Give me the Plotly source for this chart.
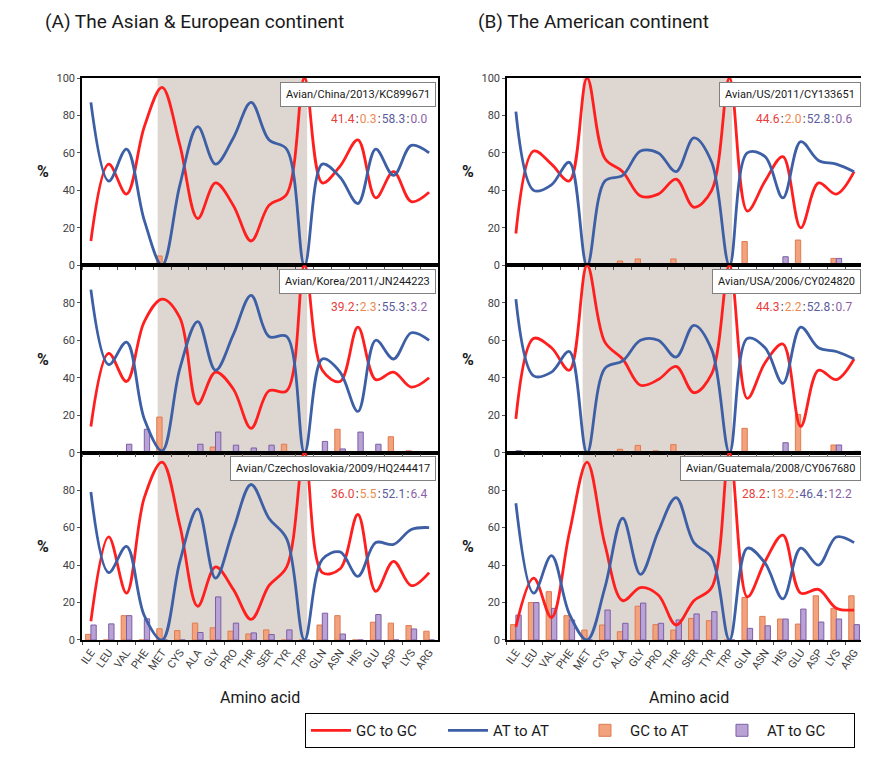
import plotly.graph_objects as go
from plotly.subplots import make_subplots

AMINO = ["ILE", "LEU", "VAL", "PHE", "MET", "CYS", "ALA", "GLY", "PRO", "THR",
         "SER", "TYR", "TRP", "GLN", "ASN", "HIS", "GLU", "ASP", "LYS", "ARG"]

# (A) Asian & European continent
china_gc_gc = [13, 54, 38, 74, 95, 64, 25, 44, 32, 13, 32, 38, 100, 44, 53, 67, 36, 50, 34, 39]
china_at_at = [87, 45, 62, 24, 0, 43, 74, 54, 68, 87, 67, 62, 0, 54, 47, 33, 62, 48, 64, 60]
china_gc_at = [0, 0, 0, 0, 5, 0, 0, 0, 0, 0, 0, 0, 0, 1, 0, 0, 0, 0.5, 0.5, 0]
china_at_gc = [0] * 20

korea_gc_gc = [14, 53, 38, 70, 82, 72, 26, 43, 34, 13, 33, 33, 100, 44, 38, 67, 39, 43, 35, 40]
korea_at_at = [87, 47, 59, 18, 1, 45, 70, 44, 63, 84, 62, 62, 0, 50, 43, 22, 60, 50, 64, 60]
korea_gc_at = [0, 0, 0, 0, 19, 0, 0, 3, 0, 0, 0, 4.5, 0, 0, 12.5, 0, 0, 8.5, 1, 0]
korea_at_gc = [0, 0, 4.5, 12.5, 0, 0, 4.5, 11, 4, 2.5, 4, 0, 0, 6, 2, 11, 4.5, 0, 0, 0]

czech_gc_gc = [10, 55, 25, 76, 95, 61, 18, 39, 27, 11, 29, 39, 100, 36, 38, 67, 26, 42, 29, 36]
czech_at_at = [79, 36, 50, 13, 0, 42, 70, 33, 59, 83, 65, 54, 0, 43, 47, 34, 52, 51, 59, 60]
czech_gc_at = [3, 0, 13, 0, 6, 5, 9, 6.5, 4.7, 3.2, 5.4, 0, 0, 8, 13, 0, 9.5, 9, 7.7, 4.7]
czech_at_gc = [8, 8.6, 13, 11.3, 0, 0, 4, 23, 9, 3.8, 2.9, 5.4, 0, 14.3, 3.2, 0, 13.6, 0, 5.9, 0]

# (B) American continent
us_gc_gc = [17, 61, 54, 45, 100, 57, 50, 37, 38, 46, 31, 40, 100, 29, 45, 58, 20, 44, 38, 50]
us_at_at = [82, 40, 43, 55, 0, 45, 48, 61, 60, 50, 68, 55, 0, 60, 58, 36, 66, 56, 54, 50]
us_gc_at = [0.5, 0, 0.5, 0, 0, 0, 2.3, 3.4, 1, 3.4, 0, 0, 0, 12.7, 0, 0, 13.5, 0, 3.7, 0]
us_at_gc = [0, 0, 0, 0, 0, 0, 0, 0, 0, 0, 0, 0, 0, 0, 0, 4.6, 0, 0, 3.7, 0.5]

usa_gc_gc = [18, 61, 56, 44, 100, 59, 50, 36, 39, 46, 32, 42, 100, 29, 48, 58, 14, 44, 39, 50]
usa_at_at = [82, 41, 43, 54, 0, 45, 49, 60, 60, 51, 68, 55, 0, 61, 56, 37, 67, 56, 54, 50]
usa_gc_at = [0, 0, 0.5, 0, 0, 0, 1.8, 3.9, 1, 4.3, 0, 0, 0, 13, 0, 0, 20.4, 0, 4.1, 0]
usa_at_gc = [1, 0, 0, 0, 0, 0, 0, 0, 0, 0, 0, 0, 0, 0, 0, 5.3, 0, 0, 4.1, 0.7]

guat_gc_gc = [7, 33, 12, 57, 95, 51, 21, 28, 24, 8, 21, 28, 100, 23, 42, 56, 25, 27, 17, 16]
guat_at_at = [73, 25, 45, 14, 0, 28, 65, 35, 58, 76, 52, 44, 0, 49, 41, 22, 49, 40, 55, 52]
guat_gc_at = [8.2, 20, 25.8, 13, 5.3, 8, 4.4, 18, 8.2, 5.3, 11.5, 10.3, 0, 22.7, 12.6, 11.2, 8.5, 23.6, 16.9, 23.6]
guat_at_gc = [13.3, 20, 16.9, 10.7, 0, 16, 8.9, 19.7, 8.9, 10.7, 13.9, 15.1, 0, 6.2, 7.6, 11.2, 16.5, 9.6, 11.2, 8.2]

PANELS = [
    (1, 1, "Avian/China/2013/KC899671", ["41.4", "0.3", "58.3", "0.0"],
     china_gc_gc, china_at_at, china_gc_at, china_at_gc),
    (2, 1, "Avian/Korea/2011/JN244223", ["39.2", "2.3", "55.3", "3.2"],
     korea_gc_gc, korea_at_at, korea_gc_at, korea_at_gc),
    (3, 1, "Avian/Czechoslovakia/2009/HQ244417", ["36.0", "5.5", "52.1", "6.4"],
     czech_gc_gc, czech_at_at, czech_gc_at, czech_at_gc),
    (1, 2, "Avian/US/2011/CY133651", ["44.6", "2.0", "52.8", "0.6"],
     us_gc_gc, us_at_at, us_gc_at, us_at_gc),
    (2, 2, "Avian/USA/2006/CY024820", ["44.3", "2.2", "52.8", "0.7"],
     usa_gc_gc, usa_at_at, usa_gc_at, usa_at_gc),
    (3, 2, "Avian/Guatemala/2008/CY067680", ["28.2", "13.2", "46.4", "12.2"],
     guat_gc_gc, guat_at_at, guat_gc_at, guat_at_gc),
]

RED = "#ff1f1f"
BLUE = "#3d5fa6"
ORANGE = "#f2a27e"
ORANGE_EDGE = "#e07b4f"
PURPLE = "#b9a2d4"
PURPLE_EDGE = "#7d5fa5"
SHADE = "#ded6d0"
RATIO_COLORS = ["#e8403c", "#ee8a50", "#5b5b9e", "#8b5fa8"]
FONT = "Roboto, sans-serif"

fig = make_subplots(rows=3, cols=2, horizontal_spacing=0.0883, vertical_spacing=0)

first = True
for row, col, label, ratio, gc_gc, at_at, gc_at, at_gc in PANELS:
    fig.add_trace(go.Bar(x=AMINO, y=gc_at, name="GC to AT", legendrank=3,
                         marker=dict(color=ORANGE, line=dict(color=ORANGE_EDGE, width=1)),
                         showlegend=first), row=row, col=col)
    fig.add_trace(go.Bar(x=AMINO, y=at_gc, name="AT to GC", legendrank=4,
                         marker=dict(color=PURPLE, line=dict(color=PURPLE_EDGE, width=1)),
                         showlegend=first), row=row, col=col)
    fig.add_trace(go.Scatter(x=AMINO, y=gc_gc, name="GC to GC", mode="lines", legendrank=1,
                             line=dict(color=RED, width=2.8, shape="spline", smoothing=1),
                             showlegend=first), row=row, col=col)
    fig.add_trace(go.Scatter(x=AMINO, y=at_at, name="AT to AT", mode="lines", legendrank=2,
                             line=dict(color=BLUE, width=2.8, shape="spline", smoothing=1),
                             showlegend=first), row=row, col=col)
    first = False

    fig.add_vrect(x0=3.75, x1=12.15, fillcolor=SHADE, line_width=0, layer="below",
                  row=row, col=col)

    idx = (row - 1) * 2 + col
    suffix = "" if idx == 1 else str(idx)
    fig.add_annotation(xref=f"x{suffix} domain", yref=f"y{suffix} domain", x=0.993, y=0.98,
                       xanchor="right", yanchor="top", text=label, showarrow=False,
                       bgcolor="white", bordercolor="#808080", borderwidth=1, borderpad=5,
                       font=dict(size=11, color="#1a1a1a", family=FONT))
    sep = "<span style='color:#333'>\u200a:\u200a</span>"
    txt = sep.join(f"<span style='color:{c}'>{v}</span>" for v, c in zip(ratio, RATIO_COLORS))
    fig.add_annotation(xref=f"x{suffix} domain", yref=f"y{suffix} domain", x=0.975, y=0.78,
                       xanchor="right", yanchor="middle", text=txt, showarrow=False,
                       font=dict(size=12, family=FONT))

    fig.update_yaxes(range=[0, 100],
                     tickvals=[0, 20, 40, 60, 80, 100] if row == 1 else [0, 20, 40, 60, 80],
                     row=row, col=col)
    fig.update_xaxes(showticklabels=(row == 3), row=row, col=col)

fig.update_xaxes(showline=True, linecolor="black", linewidth=1.5, mirror=True,
                 showgrid=False, ticks="outside", ticklen=3, tickcolor="#555",
                 tickson="boundaries", tickangle=-55,
                 tickfont=dict(size=11, color="#404040", family=FONT))
fig.update_yaxes(showline=True, linecolor="black", linewidth=1.5, mirror=True,
                 showgrid=False, zeroline=False, ticks="outside", ticklen=3, tickcolor="#555",
                 tickprefix="<b>", ticksuffix="</b>",
                 tickfont=dict(size=11, color="#404040", family=FONT))

# titles and axis labels
fig.add_annotation(xref="paper", yref="paper", x=-0.05, y=1.1, xanchor="left", yanchor="middle",
                   text="(A) The Asian & European continent", showarrow=False,
                   font=dict(size=19, color="#1a1a1a", family=FONT))
fig.add_annotation(xref="paper", yref="paper", x=0.505, y=1.1, xanchor="left", yanchor="middle",
                   text="(B) The American continent", showarrow=False,
                   font=dict(size=19, color="#1a1a1a", family=FONT))
for xc in [0.228, 0.777]:
    fig.add_annotation(xref="paper", yref="paper", x=xc, y=-0.103, xanchor="center",
                       yanchor="middle", text="Amino acid", showarrow=False,
                       font=dict(size=16, color="#1a1a1a", family=FONT))
for xp in [-0.05, 0.494]:
    for yc in [0.833, 0.5, 0.167]:
        fig.add_annotation(xref="paper", yref="paper", x=xp, y=yc, xanchor="center",
                           yanchor="middle", text="<b>%</b>", showarrow=False,
                           font=dict(size=16, color="#1a1a1a", family=FONT))

fig.update_layout(
    width=869, height=757,
    margin=dict(l=74, r=14, t=70, b=125),
    plot_bgcolor="white", paper_bgcolor="white",
    barmode="group", bargap=0.4, bargroupgap=0,
    font=dict(family=FONT),
    legend=dict(orientation="h", x=0.2855, y=-0.13, xanchor="left", yanchor="top",
                bordercolor="black", borderwidth=1, bgcolor="white", itemwidth=40,
                entrywidth=82, font=dict(size=15, color="#1a1a1a", family=FONT)),
)

fig.write_html("out.html")
